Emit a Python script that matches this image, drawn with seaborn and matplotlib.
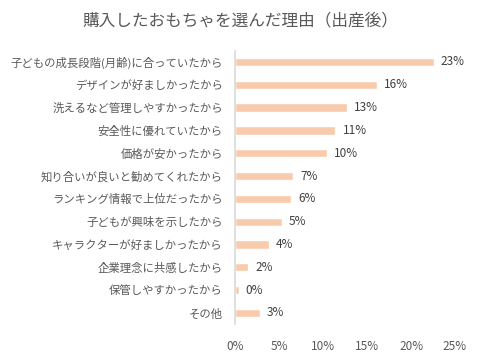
import numpy as np
import pandas as pd
import matplotlib
matplotlib.use("Agg")
import matplotlib.pyplot as plt
import seaborn as sns
from matplotlib.ticker import PercentFormatter

# データ
reasons = [
    "子どもの成長段階(月齢)に合っていたから",
    "デザインが好ましかったから",
    "洗えるなど管理しやすかったから",
    "安全性に優れていたから",
    "価格が安かったから",
    "知り合いが良いと勧めてくれたから",
    "ランキング情報で上位だったから",
    "子どもが興味を示したから",
    "キャラクターが好ましかったから",
    "企業理念に共感したから",
    "保管しやすかったから",
    "その他",
]
shares = [22.6, 16.1, 12.7, 11.4, 10.4, 6.6, 6.4, 5.3, 3.8, 1.5, 0.4, 2.8]

df = pd.DataFrame({"reason": reasons, "share": shares})

sns.set_style("white")
plt.rcParams["font.family"] = ["Noto Sans CJK JP", "DejaVu Sans"]

TXT = "#595959"
fig = plt.figure(figsize=(4.8, 3.56), dpi=100)
ax = fig.add_axes([0.49, 0.089, 0.458, 0.769])

sns.barplot(data=df, x="share", y="reason", orient="h", color="#F8CBAD",
            width=0.36, saturation=1, ax=ax)

for i, v in enumerate(shares):
    ax.text(v + 0.8, i, f"{v:.0f}%", va="center", ha="left", fontsize=8.5, color="#404040")

ax.set_xlim(0, 25)
ax.set_ylim(11.5, -0.5)
ax.set_xticks(np.arange(0, 26, 5))
ax.xaxis.set_major_formatter(PercentFormatter(decimals=0))
ax.set_xlabel("")
ax.set_ylabel("")
ax.tick_params(axis="x", labelsize=8.5, colors=TXT, length=0, pad=11)
ax.tick_params(axis="y", labelsize=8.2, colors=TXT, length=0, pad=9)

for s in ["top", "right", "bottom"]:
    ax.spines[s].set_visible(False)
ax.spines["left"].set_color("#D9D9D9")
ax.spines["left"].set_linewidth(1.2)

fig.text(0.5, 0.94, "購入したおもちゃを選んだ理由（出産後）", ha="center", va="center",
         fontsize=12, color=TXT)

fig.savefig("out.png", dpi=100)
